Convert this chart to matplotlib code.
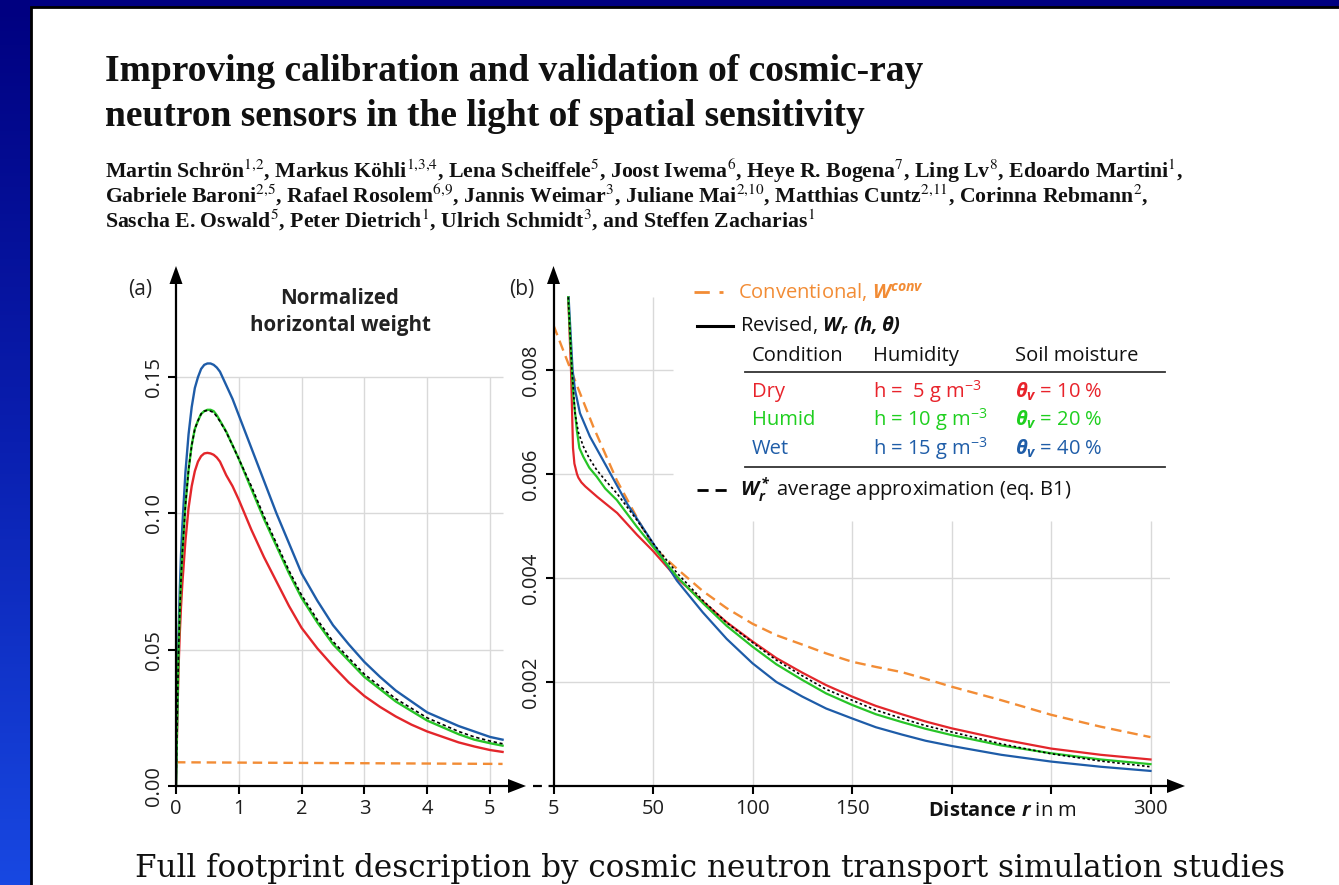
import numpy as np
import matplotlib.pyplot as plt
from matplotlib.colors import LinearSegmentedColormap
from matplotlib.patches import Rectangle, Polygon

plt.rcParams['font.family'] = ['Open Sans', 'DejaVu Sans']
plt.rcParams['mathtext.fontset'] = 'custom'
plt.rcParams['mathtext.rm'] = 'Open Sans'
plt.rcParams['mathtext.it'] = 'Open Sans:italic'
plt.rcParams['mathtext.bf'] = 'Open Sans:bold'
plt.rcParams['mathtext.bfit'] = 'Open Sans:italic:bold'

W, H = 1339, 885

# ---- data, panel (a): r in m, normalized horizontal weight ----
ra = [0, .02, .04, .06, .08, .1, .15, .2, .25, .3, .35, .4, .45, .5, .55, .6, .65, .7, .8, .9,
      1.0, 1.2, 1.4, 1.6, 1.8, 2.0, 2.25, 2.5, 2.75, 3.0, 3.25, 3.5, 3.75, 4.0, 4.25, 4.5,
      4.75, 5.0, 5.2]
wa_wet = [0, .030, .055, .072, .085, .095, .115, .129, .139, .146, .150, .153, .1545, .155,
          .155, .1545, .1535, .152, .147, .142,
          .136, .124, .112, .100, .089, .078, .068, .059, .052, .0455, .040, .035, .031, .027,
          .0245, .022, .020, .018, .017]
wa_humid = [0, .027, .049, .064, .076, .085, .103, .116, .125, .131, .134, .1365, .1375, .138,
            .138, .1375, .136, .134, .130, .125,
            .120, .109, .098, .088, .078, .069, .060, .052, .046, .040, .0355, .031, .0275,
            .024, .0215, .019, .017, .0157, .0148]
wa_dry = [0, .024, .043, .056, .066, .074, .090, .102, .110, .1155, .119, .121, .122, .1222,
          .122, .1215, .1205, .119, .114, .110,
          .105, .094, .084, .075, .066, .058, .0505, .044, .038, .033, .029, .0255, .0225,
          .020, .018, .016, .0145, .0132, .0125]
wa_avg = [0, .027, .049, .064, .076, .085, .103, .116, .125, .131, .134, .1365, .1375, .1378,
          .1375, .137, .1355, .1338, .1298, .125,
          .120, .110, .099, .089, .079, .070, .061, .053, .047, .041, .0365, .032, .0285,
          .025, .0225, .020, .018, .0165, .0155]
ra_conv = [0, 5.2]
wa_conv = [0.0087, 0.0081]

# ---- data, panel (b): axis origin labelled 5 m ----
rb_dry = [7.4, 8.8, 9.8, 10.5, 11.8, 12.5, 14, 16, 22, 32, 42, 50, 62, 75, 87, 100, 112,
          125, 137, 150, 162, 175, 187, 200, 225, 250, 275, 300]
wb_dry = [0.0094, 0.0080, 0.0065, 0.0062, 0.0060, 0.00593, 0.00584, 0.00576, 0.00556,
          0.00525, 0.00483, 0.00452, 0.00400, 0.00355, 0.00315, 0.00278, 0.00246, 0.00218,
          0.00194, 0.00172, 0.00154, 0.00138, 0.00124, 0.00111, 0.00090, 0.00072, 0.00060,
          0.00051]
rb_humid = [7.4, 9.2, 10, 11.7, 13, 15, 18, 21.7, 26, 31.8, 41.8, 50, 62, 75, 87, 100, 112,
            125, 137, 150, 162, 175, 187, 200, 225, 250, 275, 300]
wb_humid = [0.0094, 0.0080, 0.0075, 0.00685, 0.0065, 0.00633, 0.00612, 0.00595, 0.00572,
            0.0055, 0.00499, 0.0046, 0.00403, 0.00352, 0.00308, 0.00268, 0.00234, 0.00204,
            0.00178, 0.00156, 0.00138, 0.00123, 0.0011, 0.00098, 0.00078, 0.00063, 0.00051,
            0.00042]
rb_avg = [7.4, 9.2, 10.8, 12.5, 15, 18, 21.7, 26, 31.8, 41.8, 50, 62, 75, 87, 100, 112,
          125, 137, 150, 162, 175, 187, 200, 225, 250, 275, 300]
wb_avg = [0.0094, 0.00804, 0.00717, 0.0068, 0.00653, 0.0063, 0.00608, 0.00588, 0.00563,
          0.00512, 0.00467, 0.0041, 0.00357, 0.00314, 0.00276, 0.00242, 0.00212, 0.00186,
          0.00165, 0.00146, 0.0013, 0.00116, 0.00104, 0.00081, 0.00062, 0.00048, 0.00037]
rb_wet = [7.6, 9.6, 10.8, 13.3, 18.3, 26.7, 36.8, 50, 62, 75, 87, 100, 112, 125, 137, 150,
          162, 175, 187, 200, 225, 250, 275, 300]
wb_wet = [0.0094, 0.0080, 0.00762, 0.00717, 0.00672, 0.00614, 0.00544, 0.00467, 0.00395,
          0.00334, 0.00283, 0.00236, 0.0020, 0.00172, 0.00149, 0.0013, 0.00113, 0.00099,
          0.00087, 0.00077, 0.0006, 0.00047, 0.00037, 0.00029]
rb_conv = [0, 8.3, 20, 31.8, 43.5, 50, 62, 75, 87, 100, 112, 125, 137, 150, 162, 175, 187,
           200, 225, 250, 275, 300]
wb_conv = [0.00886, 0.00804, 0.00691, 0.00588, 0.00505, 0.0046, 0.00418, 0.00375, 0.00342,
           0.00312, 0.0029, 0.00272, 0.00255, 0.00239, 0.00229, 0.00219, 0.00206, 0.00191,
           0.00165, 0.00137, 0.00114, 0.00094]

xticks_b = [0, 50, 100, 150, 200, 250, 300]
xticklabels_b = ['5', '50', '100', '150', '', '', '300']

red, green, blue, orange = '#e3262b', '#27c427', '#1e5ca8', '#f28c35'
gridc = '#d9d9d9'
tickc = '#1e1e1e'


def box(l, t, r, b):
    return [l / W, 1 - b / H, (r - l) / W, (b - t) / H]


fig = plt.figure(figsize=(W / 100, H / 100), dpi=100)

# slide background
bg = fig.add_axes([0, 0, 1, 1])
bg.axis('off')
grad = np.linspace(0, 1, 256)[:, None]
cmap = LinearSegmentedColormap.from_list('slide', ['#000080', '#0a1fb0', '#1848e2'])
bg.imshow(grad, extent=[0, W, H, 0], cmap=cmap, aspect='auto')
bg.add_patch(Rectangle((31, 7), W, H, fc='white', ec='black', lw=2))
bg.set_xlim(0, W)
bg.set_ylim(H, 0)

# ---- panel (a) ----
ax = fig.add_axes(box(176, 282, 512, 786))
ax.set_facecolor('none')
ax.set_xlim(0, (512 - 176) / 62.8)
ax.set_ylim(0, (786 - 282) * 0.05 / 136.3)
ax.vlines([1, 2, 3, 4, 5], 0, 0.15, color=gridc, lw=1, zorder=0)
ax.hlines([0.05, 0.10, 0.15], 0, 5.2, color=gridc, lw=1, zorder=0)
ax.plot(ra_conv, wa_conv, color=orange, lw=1.7, dashes=(4, 2.5))
ax.plot(ra, wa_dry, color=red, lw=1.7)
ax.plot(ra, wa_wet, color=blue, lw=1.7)
ax.plot(ra, wa_humid, color=green, lw=1.7)
ax.plot(ra, wa_avg, color='black', lw=1.2, dashes=(2, 1.6))
ax.set_xticks([0, 1, 2, 3, 4, 5])
ax.set_yticks([0, 0.05, 0.10, 0.15])
ax.set_yticklabels(['0.00', '0.05', '0.10', '0.15'], rotation=90, va='center')

# ---- panel (b) ----
bx = fig.add_axes(box(553.5, 282, 1170, 786))
bx.set_facecolor('none')
bx.set_xlim(0, (1170 - 553.5) / 1.99)
bx.set_ylim(0, (786 - 282) * 0.002 / 104)
bx.vlines([50], 0, 0.0094, color=gridc, lw=1, zorder=0)
bx.vlines([100, 150, 200, 250, 300], 0, 0.0051, color=gridc, lw=1, zorder=0)
bx.hlines([0.002, 0.004], 0, 313, color=gridc, lw=1, zorder=0)
bx.hlines([0.006, 0.008], 0, 60, color=gridc, lw=1, zorder=0)
bx.plot(rb_conv, wb_conv, color=orange, lw=1.7, dashes=(4.5, 2.5))
bx.plot(rb_dry, wb_dry, color=red, lw=1.6)
bx.plot(rb_wet, wb_wet, color=blue, lw=1.6)
bx.plot(rb_humid, wb_humid, color=green, lw=1.6)
bx.plot(rb_avg, wb_avg, color='black', lw=1.2, dashes=(1.5, 1.5))
bx.set_xticks(xticks_b)
bx.set_xticklabels(xticklabels_b)
bx.set_yticks([0.002, 0.004, 0.006, 0.008])
bx.set_yticklabels(['0.002', '0.004', '0.006', '0.008'], rotation=90, va='center')

for a in (ax, bx):
    for s in ('top', 'right'):
        a.spines[s].set_visible(False)
    for s in ('left', 'bottom'):
        a.spines[s].set_linewidth(1.6)
    a.tick_params(direction='out', length=6, width=1.5, labelsize=14.5,
                  labelcolor=tickc, pad=3)

# ---- overlay: arrows, legend, texts ----
ov = fig.add_axes([0, 0, 1, 1])
ov.set_facecolor('none')
ov.axis('off')
ov.set_xlim(0, W)
ov.set_ylim(H, 0)
for tip, ax_dir in [((526, 786), 'x'), ((1185, 786), 'x'), ((176, 266), 'y'), ((553.5, 266), 'y')]:
    tx, ty = tip
    if ax_dir == 'x':
        pts = [(tx, ty), (tx - 18, ty - 7), (tx - 18, ty + 7)]
    else:
        pts = [(tx, ty), (tx - 6.5, ty + 18), (tx + 6.5, ty + 18)]
    ov.add_patch(Polygon(pts, closed=True, fc='black', ec='none'))
ov.plot([533, 553], [786, 786], color='black', lw=1.6, dashes=(4, 3))

ov.plot([694, 723], [292, 292], color=orange, lw=2, dashes=(5.5, 3.5))
ov.plot([697, 733], [326, 326], color='black', lw=2.2)
ov.plot([697, 733], [490, 490], color='black', lw=2, dashes=(4, 2.5))
ov.plot([745, 1165], [372, 372], color='#333333', lw=1.3)
ov.plot([745, 1165], [467, 467], color='#333333', lw=1.3)


def T(x, y, s, **kw):
    kw.setdefault('va', 'center')
    return fig.text(x / W, 1 - y / H, s, **kw)


fs = 14.5
T(738, 292, r'Conventional, $\mathbfit{W}^{\mathbfit{conv}}$', color=orange, fontsize=fs)
T(740, 326, r'Revised, $\mathbfit{W_r\ (h, \theta)}$', color='#111111', fontsize=fs)
T(752, 356, 'Condition', color='#111111', fontsize=fs)
T(873, 356, 'Humidity', color='#111111', fontsize=fs)
T(1015, 356, 'Soil moisture', color='#111111', fontsize=fs)
rows = [('Dry', ' 5', '10', '#e8232b', 392), ('Humid', '10', '20', '#1fcf1f', 420),
        ('Wet', '15', '40', '#1f5da8', 449)]
for name, h, th, c, y in rows:
    T(752, y, name, color=c, fontsize=fs)
    T(873, y, 'h = ' + h + r' g m$^{-3}$', color=c, fontsize=fs)
    T(1015, y, r'$\mathbfit{\theta_v}$ = ' + th + ' %', color=c, fontsize=fs)
T(740, 490, r'$\mathbfit{W_r^*}$ average approximation (eq. B1)', color='#111111', fontsize=fs)

T(928, 811, r'$\mathbf{Distance}\ \mathbfit{r}$ in m', color='#111111', fontsize=fs)
T(140, 290, '(a)', color='#222222', fontsize=15, ha='center')
T(522, 290, '(b)', color='#222222', fontsize=15, ha='center')
T(340, 298, 'Normalized', color='#222222', fontsize=14.8, fontweight='bold', ha='center')
T(340, 325, 'horizontal weight', color='#222222', fontsize=14.8, fontweight='bold', ha='center')

title = ['Improving calibration and validation of cosmic-ray',
         'neutron sensors in the light of spatial sensitivity']
for i, line in enumerate(title):
    T(105, 81 + 45 * i, line, family='Liberation Serif', fontweight='bold', fontsize=27,
      va='baseline', color='#111111')

authors = [r'Martin Schrön$^{1{,}2}$, Markus Köhli$^{1{,}3{,}4}$, Lena Scheiffele$^{5}$, Joost Iwema$^{6}$, '
           r'Heye R. Bogena$^{7}$, Ling Lv$^{8}$, Edoardo Martini$^{1}$,',
           r'Gabriele Baroni$^{2{,}5}$, Rafael Rosolem$^{6{,}9}$, Jannis Weimar$^{3}$, Juliane Mai$^{2{,}10}$, '
           r'Matthias Cuntz$^{2{,}11}$, Corinna Rebmann$^{2}$,',
           r'Sascha E. Oswald$^{5}$, Peter Dietrich$^{1}$, Ulrich Schmidt$^{3}$, and Steffen Zacharias$^{1}$']
for i, line in enumerate(authors):
    T(105, 178 + 25 * i, line, family='Liberation Serif', fontweight='bold', fontsize=15.7,
      va='baseline', color='#111111', math_fontfamily='stix')

T(135, 877, 'Full footprint description by cosmic neutron transport simulation studies',
  family='DejaVu Serif', fontsize=22.3, va='baseline', color='#111111')

fig.savefig('out.png', dpi=100)
